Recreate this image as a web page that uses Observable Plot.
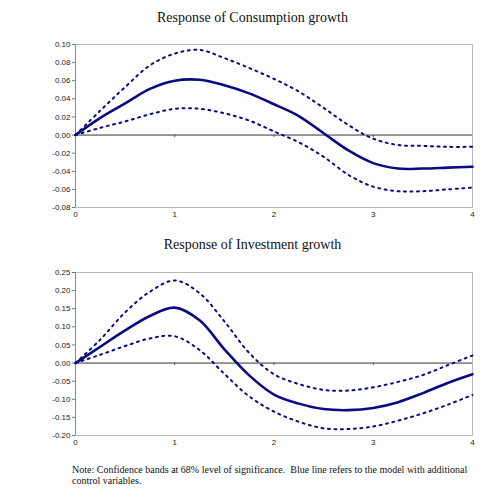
<!DOCTYPE html>
<html>
<head>
<meta charset="utf-8">
<script src="https://cdn.jsdelivr.net/npm/d3@7"></script>
<script src="https://cdn.jsdelivr.net/npm/@observablehq/plot@0.6"></script>
<style>
  html, body { margin: 0; padding: 0; background: #fff; width: 500px; height: 500px; overflow: hidden; }
  #root { position: relative; width: 500px; height: 500px; }
  .title { position: absolute; left: 0; width: 505px; text-align: center; font-family: "Liberation Serif", serif; font-size: 14px; color: #111; line-height: 16px; }
  .panel { position: absolute; left: 0; width: 500px; }
  .note { position: absolute; left: 72px; top: 464px; width: 425px; font-family: "Liberation Serif", serif; font-size: 10px; line-height: 11px; color: #111; }
</style>
</head>
<body>
<div id="root">
  <div class="title" style="top:10px">Response of Consumption growth</div>
  <div class="panel" id="p1" style="top:30px"></div>
  <div class="title" style="top:237px">Response of Investment growth</div>
  <div class="panel" id="p2" style="top:258px"></div>
  <div class="note">Note: Confidence bands at 68% level of significance.&nbsp; Blue line refers to the model with additional<br>control variables.</div>
</div>
<script>
// horizon (x values)
const horizon = [0, 0.25, 0.5, 0.75, 1, 1.25, 1.5, 1.75, 2, 2.25, 2.5, 2.75, 3, 3.25, 3.5, 3.75, 4];

// Response of Consumption growth
const consMid   = [0, 0.019, 0.035, 0.051, 0.060, 0.061, 0.055, 0.046, 0.034, 0.021, 0.002, -0.017, -0.031, -0.037, -0.037, -0.036, -0.035];
const consUpper = [0, 0.027, 0.053, 0.077, 0.090, 0.094, 0.085, 0.074, 0.062, 0.048, 0.030, 0.011, -0.004, -0.011, -0.012, -0.013, -0.013];
const consLower = [0, 0.008, 0.015, 0.023, 0.029, 0.029, 0.024, 0.016, 0.004, -0.008, -0.024, -0.044, -0.057, -0.062, -0.062, -0.060, -0.058];

// Response of Investment growth
const invMid   = [0, 0.045, 0.090, 0.130, 0.153, 0.118, 0.038, -0.034, -0.087, -0.112, -0.127, -0.130, -0.124, -0.108, -0.083, -0.055, -0.031];
const invUpper = [0, 0.065, 0.140, 0.197, 0.228, 0.193, 0.115, 0.028, -0.031, -0.058, -0.074, -0.076, -0.067, -0.052, -0.033, -0.006, 0.021];
const invLower = [0, 0.023, 0.047, 0.068, 0.074, 0.036, -0.030, -0.092, -0.134, -0.162, -0.180, -0.182, -0.175, -0.159, -0.139, -0.115, -0.088];

// tick labels
const xTicks = [0, 1, 2, 3, 4];
const consYTicks = [-0.08, -0.06, -0.04, -0.02, 0, 0.02, 0.04, 0.06, 0.08, 0.10];
const invYTicks = [-0.20, -0.15, -0.10, -0.05, 0, 0.05, 0.10, 0.15, 0.20, 0.25];

function panel(mid, upper, lower, yTicks) {
  const rows = horizon.map((h, i) => ({h, mid: mid[i], upper: upper[i], lower: lower[i]}));
  const ydom = [yTicks[0], yTicks[yTicks.length - 1]];
  const tickLen = (ydom[1] - ydom[0]) * 0.016;
  const navy = "#0a0a82";
  return Plot.plot({
    width: 500,
    height: 195,
    marginLeft: 75,
    marginRight: 28,
    marginTop: 14,
    marginBottom: 18,
    x: {domain: [xTicks[0], xTicks[xTicks.length - 1]]},
    y: {domain: ydom},
    style: {fontFamily: "'Liberation Sans', Arial, sans-serif", fontSize: "8px", color: "#222", background: "white"},
    marks: [
      Plot.frame({stroke: "#b8b8b8"}),
      Plot.ruleX([xTicks[0]], {stroke: "#8a8a8a"}),
      Plot.ruleY([0], {stroke: "#333", strokeWidth: 1}),
      Plot.ruleX(xTicks.slice(1, -1), {x: d => d, y1: 0, y2: -tickLen, stroke: "#555"}),
      Plot.axisY({ticks: yTicks, tickFormat: d => d.toFixed(2), tickSize: 3, tickPadding: 2, label: null, stroke: "#777"}),
      Plot.axisX({ticks: xTicks, tickFormat: d => String(d), tickSize: 0, tickPadding: 4, label: null}),
      Plot.line(rows, {x: "h", y: "upper", stroke: navy, strokeWidth: 2, strokeDasharray: "2,4.5", curve: "catmull-rom"}),
      Plot.line(rows, {x: "h", y: "lower", stroke: navy, strokeWidth: 2, strokeDasharray: "2,4.5", curve: "catmull-rom"}),
      Plot.line(rows, {x: "h", y: "mid", stroke: navy, strokeWidth: 2.6, curve: "catmull-rom"})
    ]
  });
}

document.getElementById("p1").append(panel(consMid, consUpper, consLower, consYTicks));
document.getElementById("p2").append(panel(invMid, invUpper, invLower, invYTicks));
</script>
</body>
</html>
